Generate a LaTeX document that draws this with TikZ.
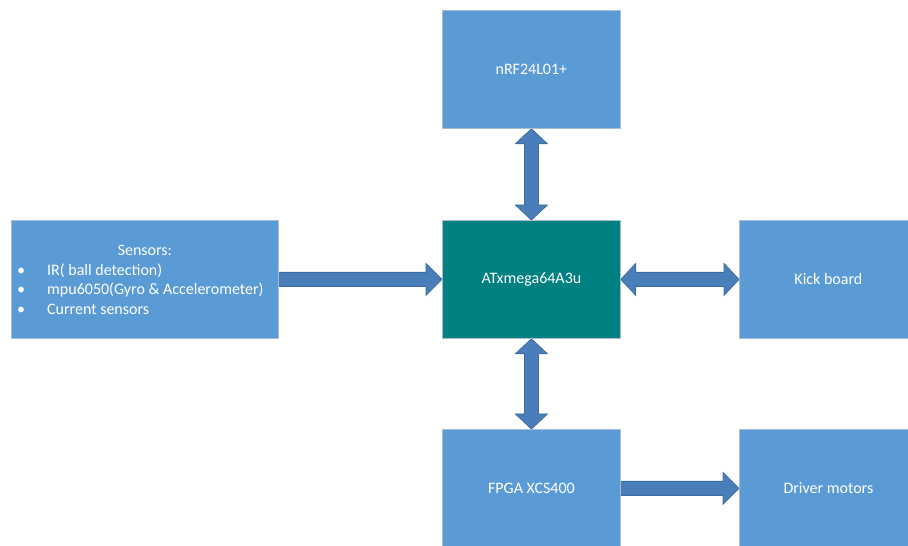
\documentclass[tikz,border=0pt]{standalone}
\usepackage{fontspec}
\setmainfont{Carlito}
\usetikzlibrary{calc}
\definecolor{boxblue}{HTML}{5B9BD5}
\definecolor{boxline}{HTML}{A9BCD2}
\definecolor{mcuteal}{HTML}{008080}
\definecolor{arrfill}{HTML}{4A7EBB}
\definecolor{arrline}{HTML}{3C6D9F}
\pgfdeclarelayer{background}
\pgfsetlayers{background,main}
\newcommand{\vdarrow}[2]{\draw[barrow] let \p1=(#1), \p2=(#2) in
  (\x1,\y1) -- (\x1+16pt,\y1-15pt) -- (\x1+7pt,\y1-15pt) -- (\x2+7pt,\y2+15pt) -- (\x2+16pt,\y2+15pt)
  -- (\x2,\y2) -- (\x2-16pt,\y2+15pt) -- (\x2-7pt,\y2+15pt) -- (\x1-7pt,\y1-15pt) -- (\x1-16pt,\y1-15pt) -- cycle;}
\newcommand{\hdarrow}[2]{\draw[barrow] let \p1=(#1), \p2=(#2) in
  (\x1,\y1) -- (\x1+15pt,\y1+16pt) -- (\x1+15pt,\y1+7pt) -- (\x2-15pt,\y2+7pt) -- (\x2-15pt,\y2+16pt)
  -- (\x2,\y2) -- (\x2-15pt,\y2-16pt) -- (\x2-15pt,\y2-7pt) -- (\x1+15pt,\y1-7pt) -- (\x1+15pt,\y1-16pt) -- cycle;}
\newcommand{\hsarrow}[2]{\draw[barrow] let \p1=(#1), \p2=(#2) in
  (\x1,\y1+7pt) -- (\x2-16pt,\y2+7pt) -- (\x2-16pt,\y2+16pt) -- (\x2,\y2)
  -- (\x2-16pt,\y2-16pt) -- (\x2-16pt,\y2-7pt) -- (\x1,\y1-7pt) -- cycle;}
\begin{document}
\begin{tikzpicture}[x=1pt,y=1pt,
  blk/.style={draw=boxline, line width=0.8pt, fill=boxblue, minimum width=178pt,
    minimum height=118pt, inner sep=0pt, text=white,
    font=\fontsize{16}{19.5}\selectfont, anchor=north west},
  mcu/.style={blk, fill=mcuteal},
  barrow/.style={draw=arrline, line width=0.8pt, fill=arrfill},
  lbl/.style={text=white, inner sep=0pt, font=\fontsize{16}{19.5}\selectfont}
]
\clip (0,0) rectangle (908,546);
\useasboundingbox (0,0) rectangle (908,546);

\node[blk] (nrf) at (442,536) {nRF24L01+};
\node[mcu] (mcu) at (442,326) {ATxmega64A3u};
\node[blk, minimum width=267pt] (sens) at (11,326) {};
\node[blk] (kick) at (739,326) {Kick board};
\node[blk] (fpga) at (442,117) {FPGA XCS400};
\node[blk] (drv) at (739,117) {Driver motors};

\node[lbl, anchor=base] (stitle) at (sens.center |- 0,290) {Sensors:};
\node[lbl, anchor=base] (b1) at (21,270) {\textbullet};
\node[lbl, anchor=base] (b2) at (21,251) {\textbullet};
\node[lbl, anchor=base] (b3) at (21,231) {\textbullet};
\node[lbl, anchor=base west] (s1) at (47,270) {IR( ball detection)};
\node[lbl, anchor=base west] (s2) at (47,251) {mpu6050(Gyro \& Accelerometer)};
\node[lbl, anchor=base west] (s3) at (47,231) {Current sensors};

\begin{pgfonlayer}{background}
\fill[white] (0,0) rectangle (908,546);
\vdarrow{nrf.south}{mcu.north}
\vdarrow{mcu.south}{fpga.north}
\hsarrow{sens.east}{mcu.west}
\hdarrow{mcu.east}{kick.west}
\hsarrow{fpga.east}{drv.west}
\end{pgfonlayer}
\end{tikzpicture}
\end{document}
